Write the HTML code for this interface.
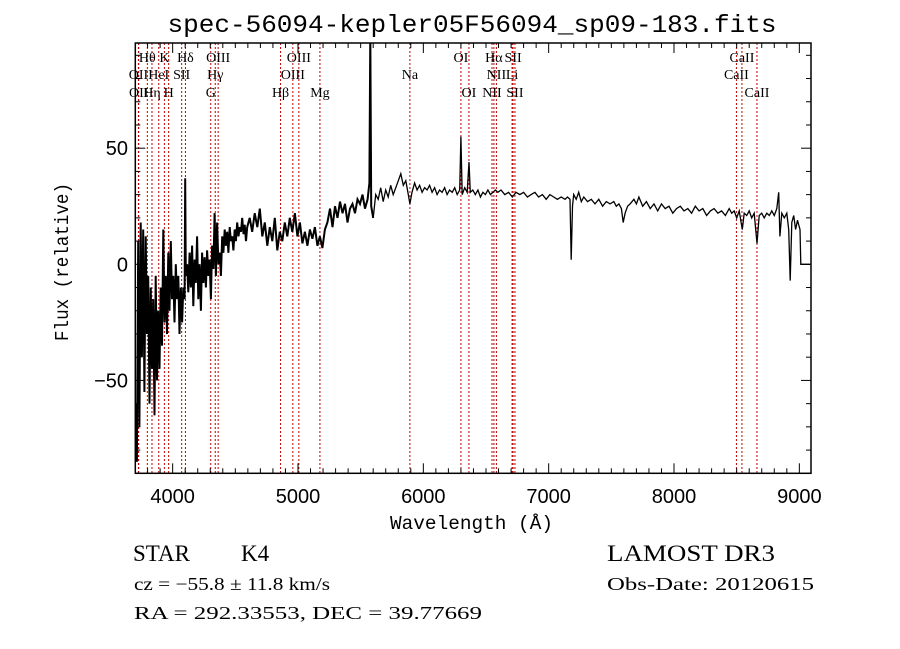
<!DOCTYPE html>
<html><head><meta charset="utf-8">
<style>
html,body{margin:0;padding:0;background:#fff;}
svg{display:block;}
text{fill:#000;}
</style></head>
<body>
<svg id="chart" width="900" height="649" viewBox="0 0 900 649" xmlns="http://www.w3.org/2000/svg">
<rect width="900" height="649" fill="#fff"/>
<text x="472" y="32" text-anchor="middle" font-family="Liberation Mono, monospace" font-size="25" textLength="609" lengthAdjust="spacingAndGlyphs">spec-56094-kepler05F56094_sp09-183.fits</text>
<defs><clipPath id="plotclip"><rect x="135.3" y="43" width="675.7" height="430.3"/></clipPath></defs>
<g id="lines" clip-path="url(#plotclip)"></g>
<g id="labels"></g>
<g id="spec" clip-path="url(#plotclip)"></g>
<g id="axes"></g>
<text x="390" y="529" font-family="Liberation Mono, monospace" font-size="19" textLength="163" lengthAdjust="spacingAndGlyphs">Wavelength (Å)</text>
<text transform="translate(68,262) rotate(-90)" text-anchor="middle" font-family="Liberation Mono, monospace" font-size="19" textLength="158" lengthAdjust="spacingAndGlyphs">Flux (relative)</text>
<text x="133" y="561" font-family="Liberation Serif, serif" font-size="23">STAR</text>
<text x="241" y="561" font-family="Liberation Serif, serif" font-size="23">K4</text>
<text x="607" y="561" font-family="Liberation Serif, serif" font-size="23" textLength="168" lengthAdjust="spacingAndGlyphs">LAMOST DR3</text>
<text x="134" y="590" font-family="Liberation Serif, serif" font-size="18" textLength="196" lengthAdjust="spacingAndGlyphs">cz = −55.8 ± 11.8 km/s</text>
<text x="607" y="590" font-family="Liberation Serif, serif" font-size="18" textLength="207" lengthAdjust="spacingAndGlyphs">Obs-Date: 20120615</text>
<text x="134" y="619" font-family="Liberation Serif, serif" font-size="18" textLength="348" lengthAdjust="spacingAndGlyphs">RA = 292.33553, DEC =  39.77669</text>
</svg>
<script>
const wavelengths = [3705,3715,3725,3735,3745,3755,3765,3775,3785,3795,3805,3815,3825,3835,3845,3855,3865,3875,3885,3895,3905,3915,3925,3935,3945,3955,3965,3975,3985,3995,4005,4015,4025,4035,4045,4055,4065,4075,4085,4095,4100,4105,
4115,4125,4135,4145,4155,4165,4175,4185,4195,4205,4215,4225,4235,4245,4255,4265,4275,4285,4295,4305,4315,4325,4335,4345,4355,4365,4375,4385,4395,4405,4415,4425,4435,4445,4455,4465,4475,4485,4495,4505,4515,4525,4535,4545,4555,4565,4575,4585,4595,
4615,4635,4655,4675,4695,4715,4735,4755,4775,4795,4815,4835,4855,4875,4895,4915,4935,4955,4975,4995,5015,5035,5055,5075,5095,5115,5135,5155,5175,5195,5215,5235,5255,5275,5295,5315,5335,5355,5375,5395,5415,5435,5455,5475,5495,5515,5535,5555,5570,5577,5584,5600,
5620,5640,5660,5680,5700,5720,5740,5760,5780,5800,5820,5840,5860,5880,5893,5910,5930,5950,5970,5990,6010,6030,6050,6070,6090,6110,6130,6150,6170,6190,6210,6230,6250,6270,6290,6300,6310,6330,6350,6364,6375,6395,6415,6435,6455,6475,6495,6515,6535,6555,6575,6595,
6620,6650,6680,6710,6740,6770,6800,6830,6860,6890,6920,6950,6980,7010,7040,7070,7100,7130,7150,7170,7180,7190,7200,7220,7240,7260,7280,7310,7340,7370,7400,7430,7460,7490,7520,7540,7560,7580,7595,7610,7630,7650,7680,7700,7720,
7750,7780,7810,7840,7870,7900,7930,7960,7990,8020,8050,8080,8110,8140,8170,8200,8230,8260,8290,8320,8350,8380,8410,8440,8460,8480,8500,8520,8545,8560,8580,8600,8620,8640,8662,8680,8700,8720,8740,8760,8780,8800,8820,8835,8845,8860,8880,8900,8915,8927,8940,8955,8970,8985,8995,9005,9012,9085];
const fluxes = [-60,-85,10,-70,18,-40,15,-55,12,-30,-5,-60,-10,-45,-15,-65,-5,-50,-20,-45,-10,-35,15,-25,-5,-30,5,-20,10,-15,-5,-25,0,-15,-5,-30,-10,-25,-10,-15,37,-5,
0,-12,5,-10,8,-18,2,-8,12,-15,0,-20,5,-8,3,-10,6,-5,2,-15,8,-2,22,-5,18,0,5,-5,12,5,15,8,14,5,16,10,12,6,15,10,18,12,16,14,20,13,17,10,16,
20,14,22,16,24,12,18,8,16,10,20,6,14,10,18,12,20,14,22,12,18,9,14,8,15,11,16,8,12,7,15,18,24,16,25,20,27,22,26,18,24,26,22,28,26,30,24,28,35,100,25,20,
30,28,33,27,32,29,34,30,33,36,39,34,36,30,26,31,35,32,34,31,33,32,34,31,33,30,32,31,33,30,32,31,33,30,32,55,30,33,31,44,31,32,30,32,29,31,30,32,30,31,32,31,
32,30,31,29,31,30,31,29,30,31,29,30,28,30,29,28,29,28,29,28,2,25,30,28,31,27,29,27,28,26,28,25,27,26,27,25,26,24,18,22,25,26,28,26,29,
25,27,24,26,23,26,24,25,22,24,25,23,24,22,25,23,24,21,23,24,22,23,21,24,22,23,20,23,15,22,21,23,20,22,9,21,22,20,22,21,23,21,24,31,12,22,20,22,15,-7,18,21,15,19,17,15,0,0];
const xTicks = [4000,5000,6000,7000,8000,9000];
const yTicks = [-50,0,50];
const lineWaves = [3727,3729,3798,3835,3889,3934,3968,4072,4102,4304,4340,4363,4861,4959,5007,5175,5893,6300,6364,6548,6563,6583,6708,6716,6731,8498,8542,8662];
const lineNames = ["OII","OII","Hθ","Hη","HeI","K","H","SII","Hδ","G","Hγ","OIII","Hβ","OIII","OIII","Mg","Na","OI","OI","NII","Hα","NII","Li","SII","SII","CaII","CaII","CaII"];
const lineRows = [2,3,1,3,2,1,3,2,1,3,2,1,3,2,1,3,2,1,3,3,1,2,2,1,3,2,1,3];

const L=135.3,R=811,T=43,B=473.3;
const X0=3702,X1=9093,Y0=-90,Y1=95.3;
const sx=w=>L+(w-X0)/(X1-X0)*(R-L);
const sy=f=>B-(f-Y0)/(Y1-Y0)*(B-T);
const NS='http://www.w3.org/2000/svg';
function mk(tag,attrs,parent){const e=document.createElementNS(NS,tag);for(const k in attrs)e.setAttribute(k,attrs[k]);parent.appendChild(e);return e;}

const gl=document.getElementById('lines'), glab=document.getElementById('labels');
const rowY={1:62,2:79,3:97};
lineWaves.forEach((w,i)=>{
  const ln=mk('line',{x1:sx(w),x2:sx(w),y1:T,y2:B,stroke:'#c00000','stroke-width':1,'stroke-dasharray':'2,2'},gl);
  
  
  const t=mk('text',{x:sx(w),y:rowY[lineRows[i]],'text-anchor':'middle','font-family':'Liberation Serif, serif','font-size':14},glab);
  t.textContent=lineNames[i];
  
  
});

const gs=document.getElementById('spec');
let d='', dBlue='';
wavelengths.forEach((w,i)=>{
  const pt=sx(w).toFixed(1)+','+sy(fluxes[i]).toFixed(1);
  d+=(i?'L':'M')+pt;
  if(w<=5600) dBlue+=(dBlue?'L':'M')+pt;
});
const p=mk('path',{d:d,fill:'none',stroke:'#000','stroke-width':1.3,'stroke-linejoin':'miter'},gs);


const pb=mk('path',{d:dBlue,fill:'none',stroke:'#000','stroke-width':2,'stroke-linejoin':'miter'},gs);



const ga=document.getElementById('axes');
const frame=mk('rect',{x:L,y:T,width:R-L,height:B-T,fill:'none',stroke:'#000','stroke-width':1.5},ga);


for(let w=3800;w<=9000;w+=100){
  const major=w%1000===0, len=major?10:5;
  mk('line',{x1:sx(w),x2:sx(w),y1:B,y2:B-len,stroke:'#000','stroke-width':1},ga);
  mk('line',{x1:sx(w),x2:sx(w),y1:T,y2:T+len,stroke:'#000','stroke-width':1},ga);
}
xTicks.forEach(v=>{
  const t=mk('text',{x:sx(v),y:503,'text-anchor':'middle','font-family':'Liberation Sans, sans-serif','font-size':20},ga);
  t.textContent=v;
  
  
});
for(let f=-80;f<=90;f+=10){
  const major=f%50===0, len=major?10:5;
  mk('line',{x1:L,x2:L+len,y1:sy(f),y2:sy(f),stroke:'#000','stroke-width':1},ga);
  mk('line',{x1:R,x2:R-len,y1:sy(f),y2:sy(f),stroke:'#000','stroke-width':1},ga);
}
yTicks.forEach(v=>{
  const t=mk('text',{x:128,y:sy(v)+7,'text-anchor':'end','font-family':'Liberation Sans, sans-serif','font-size':20},ga);
  t.textContent=v<0?'−'+Math.abs(v):String(v);
  
  
});
</script>
</body></html>
